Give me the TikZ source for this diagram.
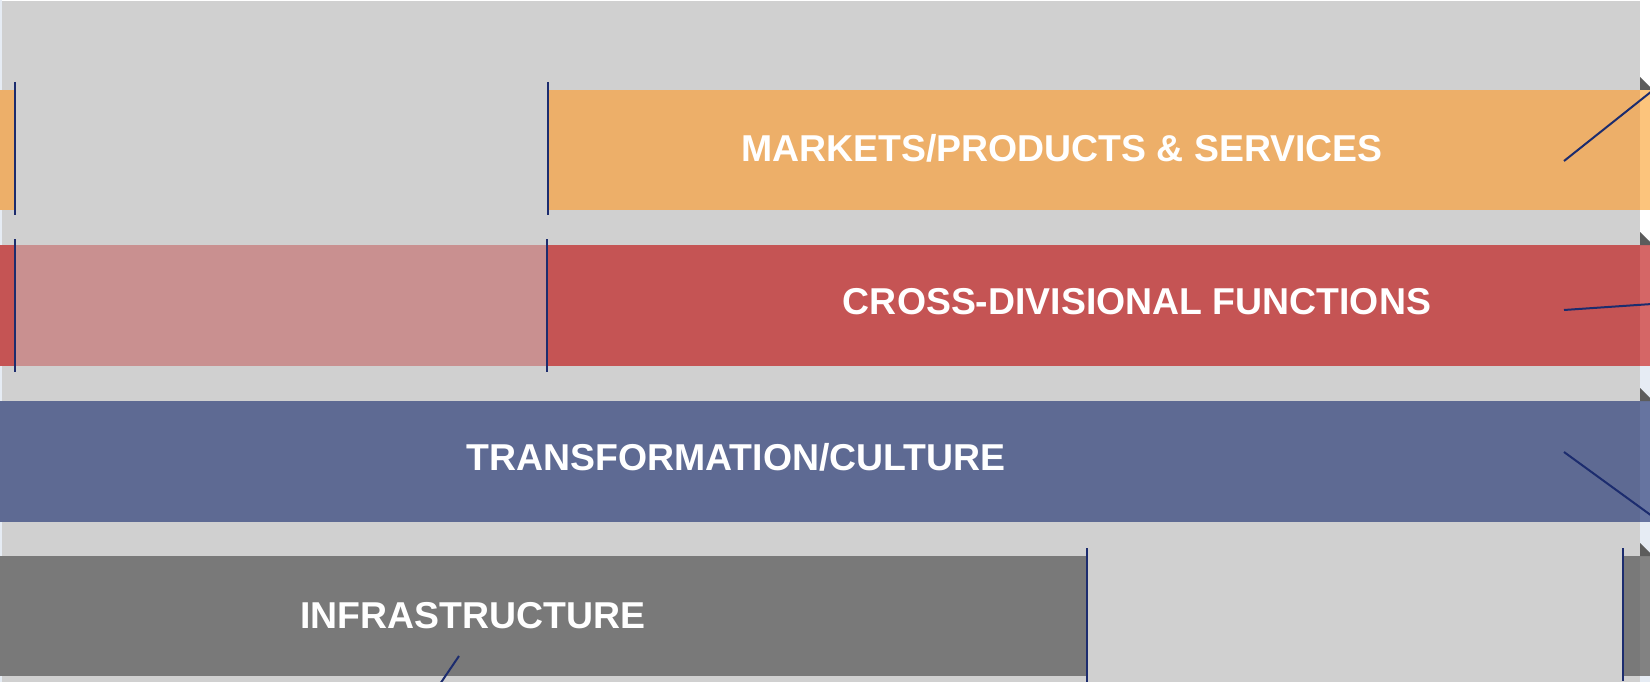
\documentclass[tikz,border=0pt]{standalone}
\usepackage{fontspec}
\setmainfont{Liberation Sans}
\definecolor{bg}{HTML}{D0D0D0}
\definecolor{orangeb}{HTML}{EDAF69}
\definecolor{orangel}{HTML}{FCC47C}
\definecolor{redb}{HTML}{C55454}
\definecolor{redl}{HTML}{D56666}
\definecolor{pinkb}{HTML}{C99090}
\definecolor{blueb}{HTML}{5E6A93}
\definecolor{bluel}{HTML}{6674A0}
\definecolor{grayb}{HTML}{797979}
\definecolor{grayl}{HTML}{828282}
\definecolor{navy}{HTML}{1C2C6E}
\definecolor{strip}{HTML}{E6ECF4}
\definecolor{shadow}{HTML}{5C5C5C}
\tikzset{
  lbl/.style={text=white, font=\bfseries\fontsize{37.4}{37.4}\selectfont, inner sep=0pt},
  mark line/.style={draw=navy, line width=2pt},
  diag/.style={draw=navy, line width=2pt},
}
\begin{document}
\begin{tikzpicture}[x=1pt,y=-1pt]
\useasboundingbox (0,0) rectangle (1650,682);
% background
\fill[white] (0,0) rectangle (1650,240);
\fill[strip] (1640,240) rectangle (1650,682);
\fill[strip] (0,0) rectangle (2,682);
\fill[bg] (2,1) rectangle (1640,682);
% orange band
\fill[orangeb] (0,90) rectangle (15,210);
\fill[orangeb] (548,90) rectangle (1640,210);
\fill[orangel] (1640,90) rectangle (1650,210);
% red band
\fill[redb] (0,245) rectangle (15,366);
\fill[pinkb] (15,245) rectangle (548,366);
\fill[redb] (548,245) rectangle (1640,366);
\fill[redl] (1640,245) rectangle (1650,366);
% blue band
\fill[blueb] (0,401) rectangle (1640,522);
\fill[bluel] (1640,401) rectangle (1650,522);
% gray band
\fill[grayb] (0,556) rectangle (1086,676);
\fill[grayb] (1623,556) rectangle (1640,676);
\fill[grayl] (1640,556) rectangle (1650,676);
% shadow triangles
\foreach \t in {90,245,401,556}{
  \fill[shadow] (1640,\t-13) -- (1650,\t-3) -- (1650,\t) -- (1640,\t) -- cycle;
}
% labels
\node[lbl] (mkt) at (1062,148) {MARKETS/PRODUCTS \& SERVICES};
\node[lbl] (cdf) at (1137,302) {CROSS-DIVISIONAL FUNCTIONS};
\node[lbl] (trc) at (736,457) {TRANSFORMATION/CULTURE};
\node[lbl] (inf) at (473,616) {INFRASTRUCTURE};
% vertical markers
\coordinate (m1a) at (15,82);  \coordinate (m1b) at (15,215);
\coordinate (m2a) at (548,82); \coordinate (m2b) at (548,215);
\coordinate (m3a) at (15,239);  \coordinate (m3b) at (15,372);
\coordinate (m4a) at (547,239); \coordinate (m4b) at (547,372);
\coordinate (m5a) at (1087,548); \coordinate (m5b) at (1087,682);
\coordinate (m6a) at (1623,548); \coordinate (m6b) at (1623,681);
\draw[mark line] (m1a) -- (m1b);
\draw[mark line] (m2a) -- (m2b);
\draw[mark line] (m3a) -- (m3b);
\draw[mark line] (m4a) -- (m4b);
\draw[mark line] (m5a) -- (m5b);
\draw[mark line] (m6a) -- (m6b);
% diagonal leader lines
\coordinate (d1a) at (1564,161); \coordinate (d1b) at (1652,91);
\coordinate (d2a) at (1564,310); \coordinate (d2b) at (1652,304);
\coordinate (d3a) at (1564,452); \coordinate (d3b) at (1652,516);
\coordinate (d4a) at (459,656);  \coordinate (d4b) at (440,684);
\draw[diag] (d1a) -- (d1b);
\draw[diag] (d2a) -- (d2b);
\draw[diag] (d3a) -- (d3b);
\draw[diag] (d4a) -- (d4b);
\end{tikzpicture}
\end{document}
